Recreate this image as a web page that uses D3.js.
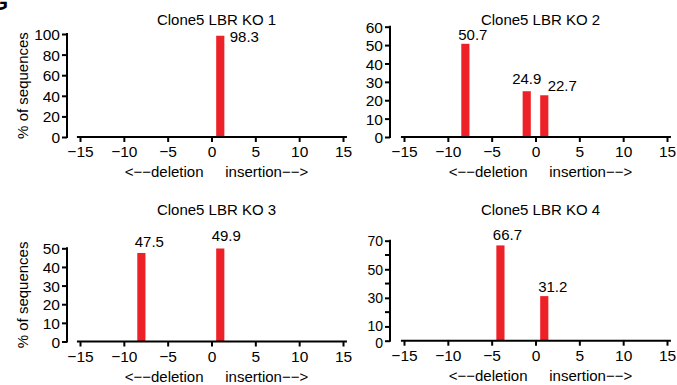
<!DOCTYPE html>
<html>
<head>
<meta charset="utf-8">
<script src="https://cdn.jsdelivr.net/npm/d3@7"></script>
<style>
  html, body { margin: 0; padding: 0; background: #fff; }
  svg { display: block; }
  text { font-family: "Liberation Sans", Arial, sans-serif; fill: #000; }
</style>
</head>
<body>
<svg id="chart" width="677" height="385"></svg>
<script>
// ---------------- data ----------------
const titles = ["Clone5 LBR KO 1", "Clone5 LBR KO 2", "Clone5 LBR KO 3", "Clone5 LBR KO 4"];
const xTicks = [-15, -10, -5, 0, 5, 10, 15];
const ko1Pos = [1];
const ko1Val = [98.3];
const ko2Pos = [-8, -1, 1];
const ko2Val = [50.7, 24.9, 22.7];
const ko3Pos = [-8, 1];
const ko3Val = [47.5, 49.9];
const ko4Pos = [-4, 1];
const ko4Val = [66.7, 31.2];
const yTicks1 = [0, 20, 40, 60, 80, 100];
const yTicks2 = [0, 10, 20, 30, 40, 50, 60];
const yTicks3 = [0, 10, 20, 30, 40, 50];
const yTicks4 = [0, 10, 30, 50, 70];
const yMinor4 = [20, 40, 60];
const yLabel = "% of sequences";
const delLabel = "<\u2212\u2212deletion";
const insLabel = "insertion\u2212\u2212>";

// ---------------- layout / style ----------------
const RED = "#ed2128";
const panels = [
  { title: titles[0], pos: ko1Pos, val: ko1Val, yMax: 100, ticks: yTicks1, minor: [],
    axisX: 67, x0: 80, x1: 343, yBottom: 137, yTop: 34, titleY: 25, ylab: true, tickFs: 15.5, tickDy: {},
    lab: [{ dx: 9.5, dy: 6, anchor: "start" }] },
  { title: titles[1], pos: ko2Pos, val: ko2Val, yMax: 60, ticks: yTicks2, minor: [],
    axisX: 390, x0: 404, x1: 667, yBottom: 137, yTop: 26.7, titleY: 25, ylab: false, tickFs: 15.5, tickDy: {},
    lab: [{ dx: 7.5, dy: -4 }, { dx: 0, dy: -7 }, { dx: 18, dy: -4 }] },
  { title: titles[2], pos: ko3Pos, val: ko3Val, yMax: 50, ticks: yTicks3, minor: [],
    axisX: 67, x0: 80, x1: 343, yBottom: 341.5, yTop: 248.3, titleY: 215, ylab: true, tickFs: 15.5, tickDy: {},
    lab: [{ dx: 8, dy: -6 }, { dx: 6, dy: -7 }] },
  { title: titles[3], pos: ko4Pos, val: ko4Val, yMax: 70, ticks: yTicks4, minor: yMinor4,
    axisX: 390, x0: 404, x1: 667, yBottom: 340.7, yTop: 240.7, titleY: 215, ylab: false, tickFs: 14, tickDy: { 0: 1.5, 10: -1 },
    lab: [{ dx: 7, dy: -5 }, { dx: 8.5, dy: -4 }] }
];

const svg = d3.select("#chart");
const FS = 15;

// partial panel letter at top-left corner
svg.append("text").attr("x", -9).attr("y", 10)
  .style("font-size", "22px").style("font-weight", "bold").text("G");

panels.forEach(p => {
  const g = svg.append("g");
  const x = d3.scaleLinear().domain([-15, 15]).range([p.x0, p.x1]);
  const y = d3.scaleLinear().domain([0, p.yMax]).range([p.yBottom, p.yTop]);
  const bw = x(1) - x(0);

  // title
  g.append("text").attr("x", x(0) + 5).attr("y", p.titleY)
    .attr("text-anchor", "middle").style("font-size", FS + "px").text(p.title);

  // bars
  const rows = p.pos.map((d, i) => ({ pos: d, val: p.val[i], i }));
  g.selectAll("rect.bar").data(rows)
    .enter().append("rect").attr("class", "bar")
    .attr("x", d => x(d.pos) - bw / 2 + 0.3)
    .attr("width", bw - 0.6)
    .attr("y", d => y(d.val))
    .attr("height", d => y(0) - y(d.val))
    .attr("fill", RED);

  // value labels
  g.selectAll("text.val").data(rows)
    .enter().append("text").attr("class", "val")
    .attr("x", d => x(d.pos) + p.lab[d.i].dx)
    .attr("y", d => y(d.val) + p.lab[d.i].dy)
    .attr("text-anchor", d => p.lab[d.i].anchor || "middle")
    .style("font-size", FS + "px")
    .text(d => d.val.toFixed(1));

  // y axis
  const yAxis = d3.axisLeft(y).tickValues(p.ticks).tickSize(5).tickPadding(2)
    .tickFormat(d3.format("d"));
  const ya = g.append("g").attr("transform", `translate(${p.axisX},0)`).call(yAxis);
  ya.select(".domain").remove();
  ya.selectAll(".tick line").attr("stroke-width", 2);
  ya.selectAll(".tick text").style("font-size", p.tickFs + "px")
    .style("font-family", "Liberation Sans, Arial, sans-serif")
    .attr("dy", "0.36em")
    .attr("y", d => p.tickDy[d] || 0);
  ya.append("line").attr("x1", 0).attr("x2", 0)
    .attr("y1", y(p.yMax) - 1).attr("y2", y(0) + 1)
    .attr("stroke", "#000").attr("stroke-width", 2);
  if (p.minor.length) {
    ya.selectAll("line.minor").data(p.minor).enter().append("line")
      .attr("class", "minor").attr("x1", -5).attr("x2", 0)
      .attr("y1", d => y(d)).attr("y2", d => y(d))
      .attr("stroke", "#000").attr("stroke-width", 2);
  }

  // x axis
  const xAxis = d3.axisBottom(x).tickValues(xTicks).tickSize(5).tickPadding(4)
    .tickFormat(d3.format("d"));
  const xa = g.append("g").attr("transform", `translate(0,${p.yBottom})`).call(xAxis);
  xa.select(".domain").remove();
  xa.selectAll(".tick line").attr("stroke-width", 2);
  xa.selectAll(".tick text").style("font-size", "15.5px").style("font-family", "Liberation Sans, Arial, sans-serif");
  xa.append("line").attr("x1", x(-15.35)).attr("x2", x(15.45))
    .attr("y1", 0).attr("y2", 0).attr("stroke", "#000").attr("stroke-width", 2);

  // deletion / insertion labels
  g.append("text").attr("x", x(-5.4)).attr("y", p.yBottom + 40)
    .attr("text-anchor", "middle").style("font-size", FS + "px").text(delLabel);
  g.append("text").attr("x", x(6.3)).attr("y", p.yBottom + 40)
    .attr("text-anchor", "middle").style("font-size", FS + "px").text(insLabel);

  // y axis title
  if (p.ylab) {
    g.append("text")
      .attr("transform", `translate(${p.axisX - 39},${(p.yBottom + p.yTop) / 2}) rotate(-90)`)
      .attr("text-anchor", "middle").style("font-size", FS + "px").text(yLabel);
  }
});
</script>
</body>
</html>
